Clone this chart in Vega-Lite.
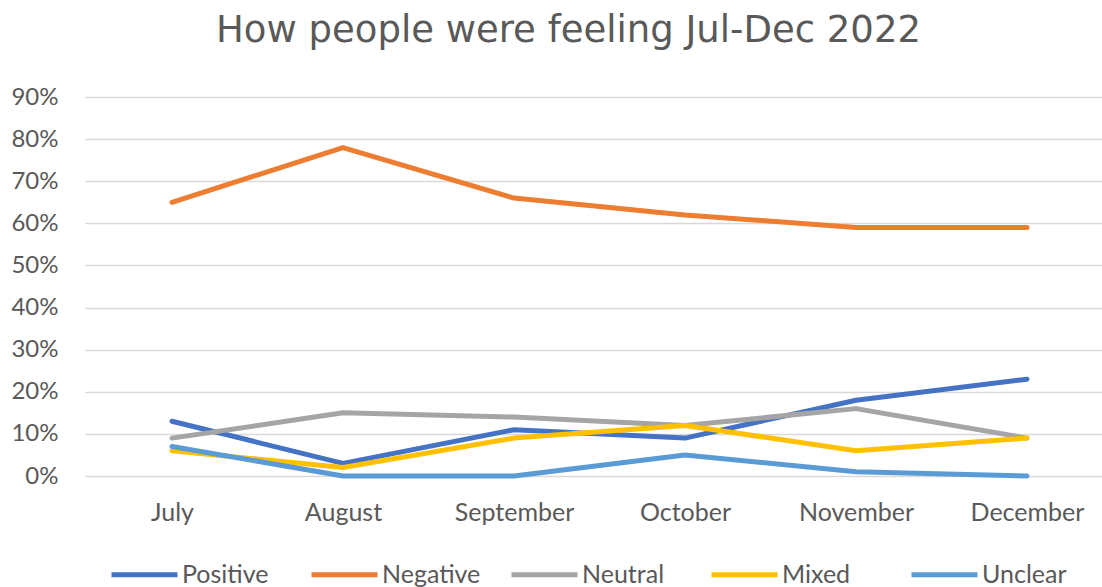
{
  "$schema": "https://vega.github.io/schema/vega-lite/v6.json",
  "autosize": {"type": "none"},
  "width": 1017,
  "height": 379,
  "padding": {"left": 85, "top": 97, "right": 0, "bottom": 111},
  "background": "white",
  "config": {"view": {"stroke": null}},
  "title": {
    "text": "How people were feeling Jul-Dec 2022",
    "font": "DejaVu Sans",
    "fontSize": 37,
    "fontWeight": "normal",
    "color": "#595959",
    "anchor": "middle",
    "dx": -25,
    "offset": 35
  },
  "data": {
    "values": [
      {"month": "July", "series": "Positive", "value": 0.13},
      {"month": "August", "series": "Positive", "value": 0.03},
      {"month": "September", "series": "Positive", "value": 0.11},
      {"month": "October", "series": "Positive", "value": 0.09},
      {"month": "November", "series": "Positive", "value": 0.18},
      {"month": "December", "series": "Positive", "value": 0.23},
      {"month": "July", "series": "Negative", "value": 0.65},
      {"month": "August", "series": "Negative", "value": 0.78},
      {"month": "September", "series": "Negative", "value": 0.66},
      {"month": "October", "series": "Negative", "value": 0.62},
      {"month": "November", "series": "Negative", "value": 0.59},
      {"month": "December", "series": "Negative", "value": 0.59},
      {"month": "July", "series": "Neutral", "value": 0.09},
      {"month": "August", "series": "Neutral", "value": 0.15},
      {"month": "September", "series": "Neutral", "value": 0.14},
      {"month": "October", "series": "Neutral", "value": 0.12},
      {"month": "November", "series": "Neutral", "value": 0.16},
      {"month": "December", "series": "Neutral", "value": 0.09},
      {"month": "July", "series": "Mixed", "value": 0.06},
      {"month": "August", "series": "Mixed", "value": 0.02},
      {"month": "September", "series": "Mixed", "value": 0.09},
      {"month": "October", "series": "Mixed", "value": 0.12},
      {"month": "November", "series": "Mixed", "value": 0.06},
      {"month": "December", "series": "Mixed", "value": 0.09},
      {"month": "July", "series": "Unclear", "value": 0.07},
      {"month": "August", "series": "Unclear", "value": 0.0},
      {"month": "September", "series": "Unclear", "value": 0.0},
      {"month": "October", "series": "Unclear", "value": 0.05},
      {"month": "November", "series": "Unclear", "value": 0.01},
      {"month": "December", "series": "Unclear", "value": 0.0}
    ]
  },
  "mark": {"type": "line", "strokeWidth": 5, "strokeCap": "round", "strokeJoin": "round"},
  "encoding": {
    "x": {
      "field": "month",
      "type": "ordinal",
      "sort": ["July", "August", "September", "October", "November", "December"],
      "scale": {"type": "point", "padding": 0.4737, "align": 0.537},
      "axis": {
        "title": null,
        "labelAngle": 0,
        "labelFont": "Lato",
        "labelFontSize": 25,
        "labelColor": "#595959",
        "labelPadding": 24,
        "ticks": false,
        "domain": false,
        "grid": false
      }
    },
    "y": {
      "field": "value",
      "type": "quantitative",
      "scale": {"domain": [0, 0.9], "nice": false},
      "axis": {
        "title": null,
        "format": ".0%",
        "values": [0, 0.1, 0.2, 0.3, 0.4, 0.5, 0.6, 0.7, 0.8, 0.9],
        "labelFont": "Lato",
        "labelFontSize": 24,
        "labelColor": "#595959",
        "labelPadding": 27,
        "ticks": false,
        "domain": false,
        "grid": true,
        "gridColor": "#d9d9d9",
        "gridWidth": 1.5
      }
    },
    "color": {
      "field": "series",
      "type": "nominal",
      "sort": ["Positive", "Negative", "Neutral", "Mixed", "Unclear"],
      "scale": {
        "domain": ["Positive", "Negative", "Neutral", "Mixed", "Unclear"],
        "range": ["#4472C4", "#ED7D31", "#A5A5A5", "#FFC000", "#5B9BD5"]
      },
      "legend": {
        "title": null,
        "orient": "none",
        "direction": "horizontal",
        "columns": 5,
        "gridAlign": "all",
        "legendX": 24,
        "legendY": 442,
        "symbolType": "stroke",
        "symbolSize": 4356,
        "symbolStrokeWidth": 5,
        "labelFont": "Lato",
        "labelFontSize": 25,
        "labelColor": "#595959",
        "labelOffset": 2,
        "columnPadding": 20
      }
    }
  }
}
